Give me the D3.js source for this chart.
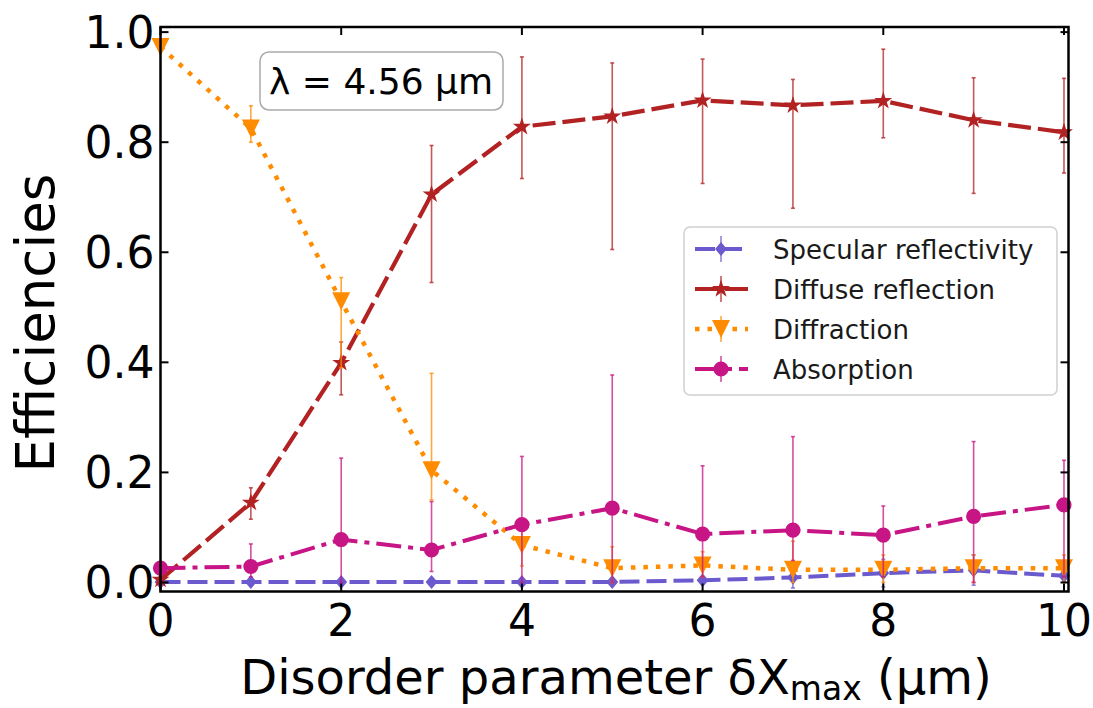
<!DOCTYPE html>
<html><head><meta charset="utf-8">
<script src="https://cdn.jsdelivr.net/npm/d3@7"></script>
<style>body{margin:0;background:#fff}svg{display:block}</style>
</head><body>
<svg id="c" width="1093" height="708"></svg>
<script>
const xValues=[0,1,2,3,4,5,6,7,8,9,10];
const xTicks=[0,2,4,6,8,10];
const yTicks=[0.0,0.2,0.4,0.6,0.8,1.0];
const seriesNames=["Specular reflectivity","Diffuse reflection","Diffraction","Absorption"];

const specular=[0.001,0.001,0.001,0.001,0.001,0.001,0.004,0.009,0.017,0.022,0.012];
const specularLow=[0.0,0.0,0.0,0.0,0.0,-0.002,-0.002,-0.01,-0.008,-0.005,0.002];
const specularHigh=[0.002,0.002,0.002,0.002,0.002,0.004,0.01,0.028,0.042,0.05,0.022];

const diffuse=[0.005,0.145,0.399,0.705,0.828,0.847,0.876,0.867,0.875,0.840,0.818];
const diffuseLow=[0.0,0.115,0.341,0.545,0.734,0.605,0.725,0.680,0.808,0.707,0.744];
const diffuseHigh=[0.01,0.172,0.437,0.794,0.955,0.944,0.951,0.914,0.969,0.917,0.916];

const diffraction=[0.973,0.825,0.511,0.204,0.068,0.026,0.031,0.023,0.023,0.026,0.026];
const diffractionLow=[0.970,0.80,0.39,0.15,0.03,0.0,0.01,0.0,0.0,0.0,0.0];
const diffractionHigh=[0.976,0.866,0.554,0.38,0.10,0.065,0.056,0.075,0.05,0.05,0.05];

const absorption=[0.026,0.029,0.078,0.059,0.105,0.135,0.088,0.095,0.086,0.120,0.141];
const absorptionLow=[0.02,0.01,0.0,0.02,0.0,0.0,0.01,0.04,0.01,0.0,0.01];
const absorptionHigh=[0.03,0.07,0.226,0.147,0.229,0.377,0.212,0.265,0.139,0.256,0.222];

const svg=d3.select("#c");
const FONT="'DejaVu Sans', sans-serif";
const L=160.5,R=1068.5,T=27,B=591.5;
const x=d3.scaleLinear().domain([0,10.05]).range([L,R]);
const y=d3.scaleLinear().domain([-0.0164,1.0093]).range([B,T]);

const clipId="plotclip";
svg.append("defs").append("clipPath").attr("id",clipId)
  .append("rect").attr("x",L-12).attr("y",T-12).attr("width",R-L+24).attr("height",B-T+24);

function diamond(s){return `M0,${-s}L${s*0.85},0L0,${s}L${-s*0.85},0Z`;}
function triDown(s){return `M${-s},${-s}L${s},${-s}L0,${s}Z`;}
const star=d3.symbol().type(d3.symbolStar).size(100)();
const circle=d3.symbol().type(d3.symbolCircle).size(180)();

const series=[
 {name:seriesNames[0],v:specular,lo:specularLow,hi:specularHigh,color:"#6a5acd",dash:"20,7",lw:4,marker:diamond(7)},
 {name:seriesNames[1],v:diffuse,lo:diffuseLow,hi:diffuseHigh,color:"#b22222",dash:"23,7",lw:4.2,marker:star},
 {name:seriesNames[2],v:diffraction,lo:diffractionLow,hi:diffractionHigh,color:"#ff8c00",dash:"4.5,8",lw:4.5,marker:triDown(9)},
 {name:seriesNames[3],v:absorption,lo:absorptionLow,hi:absorptionHigh,color:"#c71585",dash:"25,7,5,7",lw:4,marker:circle}
];

const plot=svg.append("g").attr("clip-path",`url(#${clipId})`);
const line=d3.line().x((d,i)=>x(xValues[i])).y(d=>y(d));

series.forEach(s=>{
  const g=plot.append("g");
  xValues.forEach((xv,i)=>{
    g.append("line").attr("x1",x(xv)).attr("x2",x(xv)).attr("y1",y(s.lo[i])).attr("y2",y(s.hi[i]))
      .attr("stroke",s.color).attr("stroke-width",1.6).attr("opacity",0.75);
    [s.lo[i],s.hi[i]].forEach(e=>{
      g.append("line").attr("x1",x(xv)-2).attr("x2",x(xv)+2).attr("y1",y(e)).attr("y2",y(e))
       .attr("stroke",s.color).attr("stroke-width",1.6).attr("opacity",0.75);
    });
  });
  g.append("path").attr("d",line(s.v)).attr("fill","none").attr("stroke",s.color)
    .attr("stroke-width",s.lw).attr("stroke-dasharray",s.dash);
  g.selectAll("path.m").data(s.v).enter().append("path").attr("class","m")
    .attr("d",s.marker).attr("transform",(d,i)=>`translate(${x(xValues[i])},${y(d)})`)
    .attr("fill",s.color);
});

svg.append("rect").attr("x",L).attr("y",T).attr("width",R-L).attr("height",B-T)
  .attr("fill","none").attr("stroke","#000").attr("stroke-width",2.5);

const tk=svg.append("g").attr("stroke","#000").attr("stroke-width",2);
xTicks.forEach(t=>{
  tk.append("line").attr("x1",x(t)).attr("x2",x(t)).attr("y1",B).attr("y2",B-8);
  tk.append("line").attr("x1",x(t)).attr("x2",x(t)).attr("y1",T).attr("y2",T+8);
});
yTicks.forEach(t=>{
  tk.append("line").attr("x1",L).attr("x2",L+8).attr("y1",y(t)).attr("y2",y(t));
  tk.append("line").attr("x1",R).attr("x2",R-8).attr("y1",y(t)).attr("y2",y(t));
});

svg.append("g").selectAll("text").data(xTicks).enter().append("text")
  .attr("x",d=>x(d)).attr("y",B+44).attr("text-anchor","middle")
  .attr("font-family",FONT).attr("font-size",44).attr("fill","#000").text(d=>d);
svg.append("g").selectAll("text").data(yTicks).enter().append("text")
  .attr("x",L-6).attr("y",d=>y(d)+16).attr("text-anchor","end")
  .attr("font-family",FONT).attr("font-size",44).attr("fill","#000").text(d=>d.toFixed(1));

const xl=svg.append("text").attr("x",616).attr("y",694).attr("text-anchor","middle")
  .attr("font-family",FONT).attr("font-size",48).attr("fill","#000");
xl.append("tspan").text("Disorder parameter \u03b4X");
xl.append("tspan").attr("font-size",33).attr("dy",6).text("max");
xl.append("tspan").attr("dy",-6).text(" (\u03bcm)");
svg.append("text").attr("transform","translate(54,323) rotate(-90)").attr("text-anchor","middle")
  .attr("font-family",FONT).attr("font-size",53).attr("fill","#000").text("Efficiencies");

svg.append("rect").attr("x",260).attr("y",52).attr("width",243).attr("height",58).attr("rx",9)
  .attr("fill","#fff").attr("stroke","#aaa").attr("stroke-width",1.5);
svg.append("text").attr("x",381).attr("y",94).attr("text-anchor","middle")
  .attr("font-family",FONT).attr("font-size",36).attr("fill","#000").text("\u03bb = 4.56 \u03bcm");

const lg=svg.append("g");
lg.append("rect").attr("x",684).attr("y",227).attr("width",373).attr("height",168).attr("rx",6)
  .attr("fill","#fff").attr("fill-opacity",0.85).attr("stroke","#d0d0d0").attr("stroke-width",1.5);
series.forEach((s,i)=>{
  const cy=249+i*40;
  lg.append("line").attr("x1",695).attr("x2",748).attr("y1",cy).attr("y2",cy)
    .attr("stroke",s.color).attr("stroke-width",s.lw).attr("stroke-dasharray",s.dash);
  lg.append("line").attr("x1",721).attr("x2",721).attr("y1",cy-13).attr("y2",cy+13)
    .attr("stroke",s.color).attr("stroke-width",1.6).attr("opacity",0.75);
  lg.append("path").attr("d",s.marker).attr("transform",`translate(721,${cy})`).attr("fill",s.color);
  lg.append("text").attr("x",773).attr("y",cy+10).attr("font-family",FONT).attr("font-size",26)
    .attr("fill","#1a1a1a").text(s.name);
});
</script>
</body></html>
